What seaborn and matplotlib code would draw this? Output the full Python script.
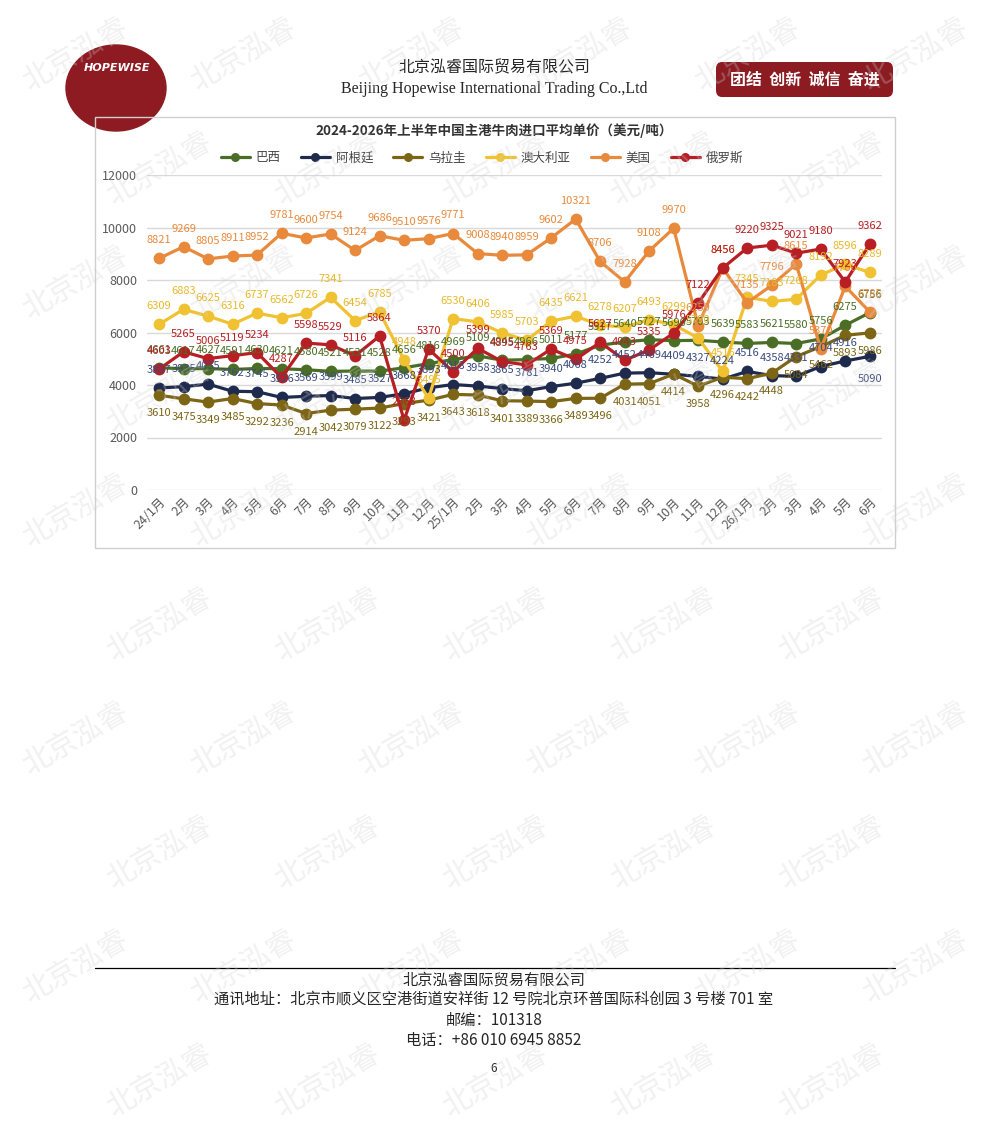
import matplotlib.pyplot as plt
import seaborn as sns
import pandas as pd
import numpy as np
from matplotlib.patches import Rectangle, FancyBboxPatch, Ellipse
from matplotlib.lines import Line2D

sns.set_style("white")
plt.rcParams['font.family'] = ['Noto Sans CJK SC', 'DejaVu Sans']

months = ['24/1月', '2月', '3月', '4月', '5月', '6月', '7月', '8月', '9月', '10月', '11月', '12月',
          '25/1月', '2月', '3月', '4月', '5月', '6月', '7月', '8月', '9月', '10月', '11月', '12月',
          '26/1月', '2月', '3月', '4月', '5月', '6月']

brazil = [4661, 4617, 4627, 4591, 4630, 4621, 4580, 4521, 4531, 4528, 4656, 4816,
          4969, 5109, 4945, 4966, 5011, 5177, 5517, 5640, 5727, 5690, 5703, 5639,
          5583, 5621, 5580, 5756, 6275, 6756]
argentina = [3887, 3935, 4035, 3762, 3745, 3526, 3569, 3599, 3485, 3527, 3668, 3893,
             4018, 3958, 3865, 3781, 3940, 4068, 4252, 4452, 4469, 4409, 4327, 4224,
             4516, 4358, 4331, 4704, 4916, 5090]
uruguay = [3610, 3475, 3349, 3485, 3292, 3236, 2914, 3042, 3079, 3122, 3293, 3421,
           3643, 3618, 3401, 3389, 3366, 3489, 3496, 4031, 4051, 4414, 3958, 4296,
           4242, 4448, 5084, 5462, 5893, 5986]
australia = [6309, 6883, 6625, 6316, 6737, 6562, 6726, 7341, 6454, 6785, 4948, 3495,
             6530, 6406, 5985, 5703, 6435, 6621, 6278, 6207, 6493, 6299, 5790, 4516,
             7345, 7183, 7268, 8192, 8596, 8289]
usa = [8821, 9269, 8805, 8911, 8952, 9781, 9600, 9754, 9124, 9686, 9510, 9576,
       9771, 9008, 8940, 8959, 9602, 10321, 8706, 7928, 9108, 9970, 6259, 8450,
       7135, 7796, 8615, 5370, 7760, 6785]
russia = [4603, 5265, 5006, 5119, 5234, 4287, 5598, 5529, 5116, 5864, 2663, 5370,
          4500, 5399, 4895, 4763, 5369, 4975, 5627, 4943, 5335, 5976, 7122, 8456,
          9220, 9325, 9021, 9180, 7923, 9362]

countries = ['巴西', '阿根廷', '乌拉圭', '澳大利亚', '美国', '俄罗斯']
series = [brazil, argentina, uruguay, australia, usa, russia]
line_colors = ['#4B6E26', '#1F2B4D', '#7C6515', '#F0C232', '#E8893C', '#B71F24']
label_colors = ['#4B6E26', '#3B4C7E', '#7C6515', '#E8B92A', '#E8893C', '#B71F24']

df = pd.DataFrame({'月份': months, 'idx': np.arange(len(months))})
for name, vals in zip(countries, series):
    df[name] = vals
long_df = df.melt(id_vars=['月份', 'idx'], value_vars=countries, var_name='国家', value_name='单价')

W, H = 983, 1133
fig = plt.figure(figsize=(W / 100, H / 100), dpi=100)
fig.patch.set_facecolor('white')


def fx(px):
    return px / W


def fy(py):
    return 1 - py / H


# header
logo = Ellipse((fx(116), fy(88)), 100 / W, 86 / H, transform=fig.transFigure, color='#8E1B22')
fig.patches.append(logo)
fig.text(fx(117), fy(68), 'HOPEWISE', color='white', fontsize=8, fontweight='bold',
         style='italic', ha='center', va='center', family=['DejaVu Sans'])
fig.text(fx(494), fy(68), '北京泓睿国际贸易有限公司', fontsize=11.5, ha='center', va='center')
fig.text(fx(494), fy(89), 'Beijing Hopewise International Trading Co.,Ltd', fontsize=11.5,
         ha='center', va='center', family=['Liberation Serif'])
box = FancyBboxPatch((fx(716), fy(97)), 177 / W, 35 / H, boxstyle='round,pad=0,rounding_size=0.006',
                     transform=fig.transFigure, facecolor='#8C1C22', edgecolor='none')
fig.patches.append(box)
fig.text(fx(805), fy(80), '团结  创新  诚信  奋进', color='white', fontsize=11.5,
         ha='center', va='center', fontweight='bold')

# chart frame
frame = Rectangle((fx(95), fy(548)), 800 / W, 431 / H, transform=fig.transFigure,
                  fill=False, edgecolor='#cfcfcf', linewidth=1)
fig.patches.append(frame)
fig.text(fx(494), fy(131), '2024-2026年上半年中国主港牛肉进口平均单价（美元/吨）',
         fontsize=9.7, fontweight='bold', ha='center', va='center', color='#333333')

ax = fig.add_axes([fx(146.75), fy(490), (882 - 146.75) / W, (490 - 175) / H])
ax.set_facecolor('none')
sns.lineplot(data=long_df, x='idx', y='单价', hue='国家', hue_order=countries,
             palette=dict(zip(countries, line_colors)), marker='o', markersize=8.5,
             markeredgewidth=0, linewidth=2.3, legend=False, ax=ax, sort=False)

for k, (vals, c) in enumerate(zip(series, label_colors)):
    below = countries[k] == '乌拉圭'
    for i, v in enumerate(vals):
        dy = -13 if below else 13
        if countries[k] == '阿根廷' and i == len(vals) - 1:
            dy = -16
        ax.annotate(str(v), (i, v), xytext=(0, dy), textcoords='offset points',
                    ha='center', va='center', fontsize=8, color=c, zorder=5)

ax.set_xlim(-0.5, len(months) - 0.5)
ax.set_ylim(0, 12000)
ax.set_yticks(range(0, 12001, 2000))
ax.set_xticks(range(len(months)))
ax.set_xticklabels(months, rotation=45, ha='right', rotation_mode='anchor')
ax.tick_params(axis='both', length=0, labelsize=9, colors='#595959')
ax.tick_params(axis='y', pad=7)
ax.tick_params(axis='x', pad=4)
ax.grid(axis='y', color='#d9d9d9', linewidth=1)
ax.grid(axis='x', visible=False)
for s in ax.spines.values():
    s.set_visible(False)
ax.set_xlabel('')
ax.set_ylabel('')

handles = [Line2D([0], [0], color=c, marker='o', markersize=6.5, linewidth=2.3, markeredgewidth=0)
           for c in line_colors]
fig.legend(handles, countries, loc='center', bbox_to_anchor=(fx(482), fy(158)), ncol=6,
           frameon=False, fontsize=9, handlelength=2.3, columnspacing=1.6, handletextpad=0.5,
           labelcolor='#444444')

# footer
fig.add_artist(Line2D([fx(95), fx(895)], [fy(968), fy(968)], transform=fig.transFigure,
                      color='black', linewidth=0.9))
fig.text(fx(494), fy(980), '北京泓睿国际贸易有限公司', fontsize=11, ha='center', va='center')
fig.text(fx(494), fy(999), '通讯地址：北京市顺义区空港街道安祥街 12 号院北京环普国际科创园 3 号楼 701 室',
         fontsize=11, ha='center', va='center')
fig.text(fx(494), fy(1020), '邮编：101318', fontsize=11, ha='center', va='center')
fig.text(fx(494), fy(1040), '电话：+86 010 6945 8852', fontsize=11, ha='center', va='center')
fig.text(fx(494), fy(1069), '6', fontsize=8.5, ha='center', va='center')

# watermark
for j in range(10):
    n = 6 if j % 2 == 0 else 5
    for i in range(n):
        x = 75 + i * 168 + (j % 2) * 84
        y = 55 + j * 114
        fig.text(fx(x), fy(y), '北京泓睿', fontsize=21, rotation=30, color='#d0d0d0',
                 alpha=0.3, ha='center', va='center', zorder=10)

fig.savefig('out.png', dpi=100)
